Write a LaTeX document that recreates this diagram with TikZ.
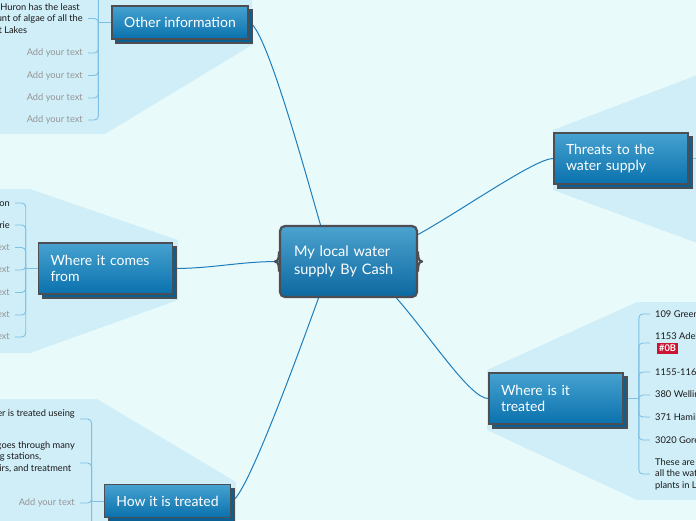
\documentclass[tikz,border=0pt]{standalone}
\usepackage{fontspec}
\setmainfont{Lato}
\usetikzlibrary{positioning,shadows,backgrounds}
\definecolor{bgcyan}{RGB}{233,250,251}
\definecolor{zoneblue}{RGB}{208,238,248}
\definecolor{boxtop}{RGB}{70,162,208}
\definecolor{boxbot}{RGB}{10,113,173}
\definecolor{boxedge}{RGB}{77,77,84}
\definecolor{coretop}{RGB}{76,163,207}
\definecolor{coremid}{RGB}{32,128,186}
\definecolor{corebot}{RGB}{13,104,160}
\definecolor{linkblue}{RGB}{30,126,188}
\definecolor{subblue}{RGB}{125,192,228}
\definecolor{hintgray}{RGB}{150,150,150}
\definecolor{leafblack}{RGB}{25,25,25}
\definecolor{tagred}{RGB}{204,20,50}

\begin{document}
\begin{tikzpicture}[x=1pt, y=-1pt,
    topic/.style={rectangle, draw=boxedge, line width=1.6pt, top color=boxtop, bottom color=boxbot, text=white, font=\fontsize{14}{16}\selectfont, align=left, inner xsep=12pt, minimum height=33pt, general shadow={shadow xshift=4pt, shadow yshift=-4pt, fill=boxbot!85!black, draw=boxedge, line width=1.6pt}},
    wide/.style={text width=110pt, minimum height=51pt},
    core/.style={rectangle, rounded corners=5pt, draw=boxedge, line width=2.2pt, top color=coretop, middle color=coremid, bottom color=corebot, text=white, font=\fontsize{14.5}{18}\selectfont, align=left, text width=109pt, inner xsep=14pt, minimum height=71pt},
    leaf/.style={font=\fontsize{9.3}{11.5}\selectfont, text=leafblack, align=left, inner xsep=5pt, inner ysep=1pt},
    hint/.style={leaf, text=hintgray},
    link/.style={draw=linkblue, line width=1pt},
    sub/.style={draw=subblue, line width=0.9pt, rounded corners=4pt},
    zone/.style={fill=zoneblue},
    brace/.style={draw=boxedge, line width=2.2pt, line join=round}
  ]
  \useasboundingbox (0,0) rectangle (696,520);
  \clip (0,0) rectangle (696,520);

  % main topics
  \node[core] (root) at (348.5,261.5) {My local water\\supply By Cash};
  \draw[brace] ([yshift=10pt]root.west) to[out=-90,in=0] ([xshift=-4pt]root.west) to[out=0,in=90] ([yshift=-10pt]root.west);
  \draw[brace] ([yshift=10pt]root.east) to[out=-90,in=180] ([xshift=4pt]root.east) to[out=180,in=90] ([yshift=-10pt]root.east);

  \node[topic] (oi) at (180,22.5) {Other information};
  \node[topic, wide] (wicf) at (105.5,268.5) {Where it comes\\from};
  \node[topic] (hiit) at (167.5,501) {How it is treated};
  \node[topic, wide] (threat) at (621,158.5) {Threats to the\\water supply};
  \node[topic, wide] (wiit) at (556,398.5) {Where is it\\treated};

  % other information
  \node[leaf, anchor=east] (oi1) at (88,18.5) {Lake Huron has the least\\amount of algae of all the\\Great Lakes};
  \node[hint, anchor=east] (oi2) at (88,53) {Add your text};
  \node[hint, anchor=east] (oi3) at (88,75.5) {Add your text};
  \node[hint, anchor=east] (oi4) at (88,98) {Add your text};
  \node[hint, anchor=east] (oi5) at (88,120) {Add your text};
  \coordinate (oimore) at (88,-20);

  % where it comes from
  \node[leaf, anchor=east] (wc1) at (15,203) {Lake Huron};
  \node[leaf, anchor=east] (wc2) at (15,225) {Lake Erie};
  \node[hint, anchor=east] (wc3) at (15,247.5) {Add your text};
  \node[hint, anchor=east] (wc4) at (15,270) {Add your text};
  \node[hint, anchor=east] (wc5) at (15,292.5) {Add your text};
  \node[hint, anchor=east] (wc6) at (15,315) {Add your text};
  \node[hint, anchor=east] (wc7) at (15,337) {Add your text};

  % how it is treated
  \node[leaf, anchor=east] (ht1) at (80,419) {The water is treated useing\\chlorine};
  \node[leaf, anchor=east] (ht2) at (80,463) {Water goes through many\\pumping stations,\\reservoirs, and treatment\\plants};
  \node[hint, anchor=east] (ht3) at (80,503) {Add your text};
  \coordinate (htmore) at (80,540);

  % where is it treated
  \node[leaf, anchor=west] (wt1) at (650,314) {109 Greenside Ave};
  \node[leaf, anchor=west] (wt2) at (650,343) {1153 Adelaide St N\\[1pt]\hspace*{2pt}{\setlength{\fboxsep}{2pt}\colorbox{tagred}{\color{white}\bfseries\#0B}}};
  \node[leaf, anchor=west] (wt3) at (650,372) {1155-1161 Dundas St};
  \node[leaf, anchor=west] (wt4) at (650,395) {380 Wellington Rd};
  \node[leaf, anchor=west] (wt5) at (650,417) {371 Hamilton Rd};
  \node[leaf, anchor=west] (wt6) at (650,440) {3020 Gore Rd};
  \node[leaf, anchor=west] (wt7) at (650,474) {These are the locations of\\all the water treatment\\plants in London};

  % threats
  \coordinate (thmore) at (720,158.5);

  \begin{pgfonlayer}{background}
    \clip (0,0) rectangle (696,520);
    \fill[bgcyan] (0,0) rectangle (696,520);
    \fill[zone] (-5,-5) -- (252,-5) -- (252,45) -- (105,134) -- (-5,134) -- cycle;
    \fill[zone] (-5,189) -- (30,189) -- (178,240) -- (178,300) -- (30,353) -- (-5,353) -- cycle;
    \fill[zone] (-5,399) -- (97,399) -- (236,482) -- (236,525) -- (-5,525) -- cycle;
    \fill[zone] (553,130) -- (700,74) -- (700,244) -- (553,190) -- cycle;
    \fill[zone] (487,370) -- (637,302) -- (700,302) -- (700,500) -- (637,500) -- (487,430) -- cycle;

    \draw[link] (oi.east) .. controls +(16,0) and +(-14,-48) .. ([xshift=-28pt]root.north);
    \draw[link] (wicf.east) .. controls +(40,0) and +(-40,0) .. (root.west);
    \draw[link] (hiit.east) .. controls +(14,0) and +(-15,41) .. ([xshift=-30pt]root.south);
    \draw[link] ([yshift=27pt]root.east) .. controls +(45,-25) and +(-18,0) .. (threat.west);
    \draw[link] ([xshift=48pt]root.south) .. controls +(35,40) and +(-18,0) .. (wiit.west);

    \draw[sub] (oi.west) -- ++(-13,0) coordinate (oj);
    \draw[sub] (oj) |- (oimore);
    \draw[sub] (oj) |- (oi1.east);
    \draw[sub] (oj) |- (oi2.east);
    \draw[sub] (oj) |- (oi3.east);
    \draw[sub] (oj) |- (oi4.east);
    \draw[sub] (oj) |- (oi5.east);

    \draw[sub] (wicf.west) -- ++(-12,0) coordinate (wj);
    \draw[sub] (wj) |- (wc1.east);
    \draw[sub] (wj) |- (wc2.east);
    \draw[sub] (wj) |- (wc3.east);
    \draw[sub] (wj) |- (wc4.east);
    \draw[sub] (wj) |- (wc5.east);
    \draw[sub] (wj) |- (wc6.east);
    \draw[sub] (wj) |- (wc7.east);

    \draw[sub] (hiit.west) -- ++(-12,0) coordinate (hj);
    \draw[sub] (hj) |- (ht1.east);
    \draw[sub] (hj) |- (ht2.east);
    \draw[sub] (hj) |- (ht3.east);
    \draw[sub] (hj) |- (htmore);

    \draw[sub] (wiit.east) -- ++(15,0) coordinate (tj);
    \draw[sub] (tj) |- (wt1.west);
    \draw[sub] (tj) |- (wt2.west);
    \draw[sub] (tj) |- (wt3.west);
    \draw[sub] (tj) |- (wt4.west);
    \draw[sub] (tj) |- (wt5.west);
    \draw[sub] (tj) |- (wt6.west);
    \draw[sub] (tj) |- (wt7.west);

    \draw[sub] (threat.east) -- (thmore);
  \end{pgfonlayer}
\end{tikzpicture}
\end{document}
